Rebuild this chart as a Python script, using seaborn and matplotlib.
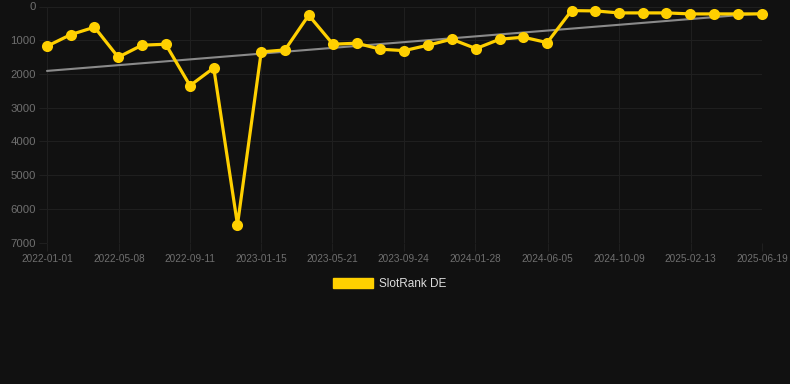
"""SlotRank DE — Verlauf mit Trendlinie."""

import matplotlib

matplotlib.use("Agg")

import matplotlib.dates as mdates
import matplotlib.pyplot as plt
import numpy as np
import pandas as pd
import seaborn as sns
from matplotlib.patches import Patch

DATES = [
    "2022-01-01", "2022-02-12", "2022-03-26", "2022-05-07", "2022-06-18",
    "2022-07-30", "2022-09-11", "2022-10-23", "2022-12-04", "2023-01-15",
    "2023-02-26", "2023-04-09", "2023-05-22", "2023-07-03", "2023-08-14",
    "2023-09-25", "2023-11-06", "2023-12-18", "2024-01-30", "2024-03-12",
    "2024-04-23", "2024-06-04", "2024-07-17", "2024-08-28", "2024-10-09",
    "2024-11-20", "2025-01-01", "2025-02-12", "2025-03-26", "2025-05-07",
    "2025-06-19",
]
RANKS = [
    1178, 834, 614, 1504, 1148, 1119, 2347, 1822, 6472, 1347,
    1288, 258, 1119, 1089, 1267, 1309, 1148, 970, 1249, 970,
    911, 1071, 122, 131, 190, 190, 190, 220, 220, 220,
    220,
]
TICK_DATES = [
    "2022-01-01", "2022-05-08", "2022-09-11", "2023-01-15", "2023-05-21",
    "2023-09-24", "2024-01-28", "2024-06-05", "2024-10-09", "2025-02-13",
    "2025-06-19",
]
Y_TICKS = [0, 1000, 2000, 3000, 4000, 5000, 6000, 7000]

BG = "#111111"
GRID = "#1f1f1f"
GOLD = "#ffd000"
TICK_COLOR = "#6f6f6f"

df = pd.DataFrame({"date": pd.to_datetime(DATES), "rank": RANKS})

# lineare Trendlinie über alle Punkte
x_num = mdates.date2num(df["date"])
slope, intercept = np.polyfit(x_num, df["rank"], 1)
trend = pd.DataFrame({
    "date": df["date"].iloc[[0, -1]],
    "rank": slope * x_num[[0, -1]] + intercept,
})

sns.set_theme(style="dark")
plt.rcParams["font.family"] = ["Liberation Sans", "DejaVu Sans"]

fig = plt.figure(figsize=(7.9, 3.84), dpi=100, facecolor=BG)
ax = fig.add_axes([47 / 790, 1 - 242.5 / 384, 715 / 790, 236 / 384])
ax.set_facecolor(BG)

sns.lineplot(data=trend, x="date", y="rank", color="#8a8a8a", lw=1.5, ax=ax, zorder=2)
sns.lineplot(
    data=df, x="date", y="rank", color=GOLD, lw=2.3,
    marker="o", markersize=8, markeredgewidth=0, ax=ax, zorder=3,
)
for line in ax.lines:
    line.set_clip_on(False)

ax.set_xlim(pd.Timestamp(TICK_DATES[0]), pd.Timestamp(TICK_DATES[-1]))
ax.set_ylim(7000, 0)
ax.set_xticks(pd.to_datetime(TICK_DATES))
ax.set_xticklabels(TICK_DATES)
ax.set_yticks(Y_TICKS)
ax.set_yticklabels([str(v) for v in Y_TICKS])

ax.grid(True, color=GRID, lw=0.8)
for side in ax.spines.values():
    side.set_visible(False)
ax.tick_params(axis="x", colors=GRID, labelcolor=TICK_COLOR, labelsize=7.2,
               length=6, width=0.8, pad=2, bottom=True)
ax.tick_params(axis="y", colors=GRID, labelcolor=TICK_COLOR, labelsize=8.2,
               length=6, width=0.8, pad=2, left=True)
ax.set_xlabel("")
ax.set_ylabel("")

handles = [Patch(facecolor=GOLD, edgecolor=GOLD, label="SlotRank DE")]
fig.legend(
    handles=handles, loc="center", bbox_to_anchor=(390 / 790, 1 - 284 / 384),
    frameon=False, fontsize=8.5, handlelength=3.4, handleheight=0.95,
    handletextpad=0.5, labelcolor="#dddddd",
)

fig.savefig("out.png", dpi=100, facecolor=BG)
